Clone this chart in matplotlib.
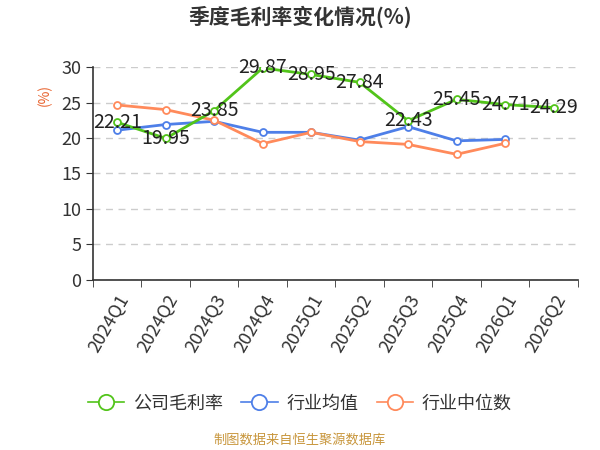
import numpy as np
import matplotlib
matplotlib.use('Agg')
import matplotlib.pyplot as plt
from matplotlib.lines import Line2D

plt.rcParams['font.family'] = ['Noto Sans CJK SC', 'DejaVu Sans']

quarters = ['2024Q1', '2024Q2', '2024Q3', '2024Q4', '2025Q1', '2025Q2',
            '2025Q3', '2025Q4', '2026Q1', '2026Q2']
company = [22.21, 19.95, 23.85, 29.87, 28.95, 27.84, 22.43, 25.45, 24.71, 24.29]
industry_mean = [21.1, 21.9, 22.35, 20.8, 20.8, 19.7, 21.6, 19.6, 19.8]
industry_median = [24.65, 24.0, 22.5, 19.2, 20.8, 19.5, 19.1, 17.7, 19.25]

green = '#52c41a'
blue = '#4e7fe8'
orange = '#ff8a5b'

fig = plt.figure(figsize=(6, 4.5), dpi=100)
ax = fig.add_axes([0.155, 0.378, 0.808, 0.473])

x = np.arange(len(quarters))
mk = dict(marker='o', markersize=5, markerfacecolor='white', markeredgewidth=1.3)
ax.plot(x[:len(industry_mean)], industry_mean, color=blue, lw=2, **mk)
ax.plot(x[:len(industry_median)], industry_median, color=orange, lw=2, **mk)
ax.plot(x, company, color=green, lw=2, zorder=3, **mk)

for xi, v in zip(x, company):
    ax.text(xi, v, '%.2f' % v, ha='center', va='center', fontsize=14, color='#222222', zorder=4)

ax.set_xlim(-0.5, len(quarters) - 0.5)
ax.set_ylim(0, 30)
ax.set_yticks([0, 5, 10, 15, 20, 25, 30])
ax.set_xticks(x)
ax.set_xticklabels(quarters, rotation=60, ha='right', rotation_mode='anchor', fontsize=13, color='#333333')
ax.set_xticks(np.arange(-0.5, len(quarters)), minor=True)
ax.tick_params(axis='x', which='major', length=0, pad=8)
ax.tick_params(axis='x', which='minor', length=5, color='#333333')
ax.tick_params(axis='y', labelsize=13, colors='#333333', length=5)
ax.grid(axis='y', linestyle=(0, (5, 4)), color='#cccccc', lw=1)
ax.set_axisbelow(True)
for s in ['top', 'right']:
    ax.spines[s].set_visible(False)
for s in ['left', 'bottom']:
    ax.spines[s].set_color('#333333')
    ax.spines[s].set_linewidth(1.2)

fig.text(0.075, 0.79, '(%)', rotation=90, color='#e8612c', fontsize=10, ha='center', va='center')
fig.text(0.5, 0.962, '季度毛利率变化情况(%)', ha='center', va='center', fontsize=15, fontweight='bold', color='#333333')

# legend with larger hollow circles and thin lines
names = ['公司毛利率', '行业均值', '行业中位数']
cols = [green, blue, orange]
handles = [Line2D([], [], color=c, lw=1.2, marker='o', markersize=11,
                  markerfacecolor='white', markeredgewidth=1.3) for c in cols]
leg = fig.legend(handles, names, loc='center', bbox_to_anchor=(0.5, 0.103), ncol=3,
                 frameon=False, fontsize=13, handlelength=2.0, handletextpad=0.5,
                 columnspacing=1.0)
for t in leg.get_texts():
    t.set_color('#333333')

fig.text(0.5, 0.022, '制图数据来自恒生聚源数据库', ha='center', va='center', fontsize=9.5, color='#c8963c')

plt.savefig('out.png', dpi=100)
